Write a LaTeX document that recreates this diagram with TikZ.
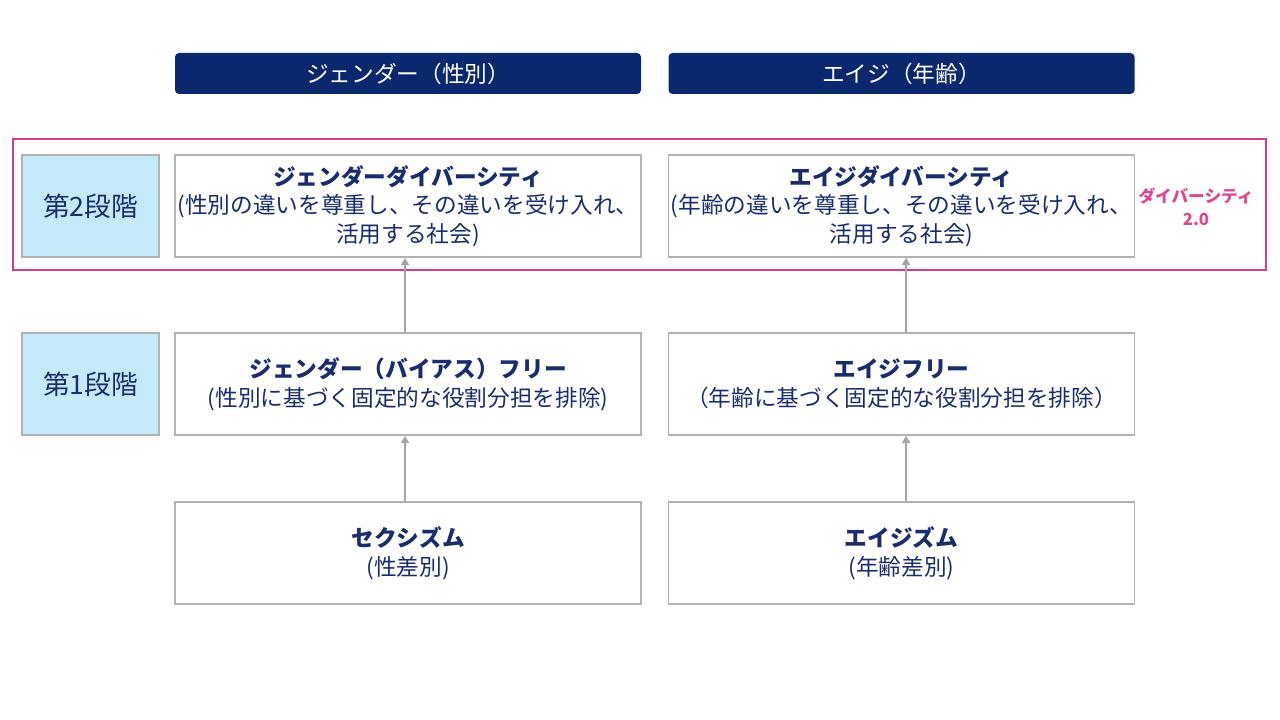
\documentclass[tikz,border=0pt]{standalone}
\usepackage{fontspec}
\setmainfont{Noto Sans CJK JP}
\usetikzlibrary{arrows.meta}
\definecolor{hdr}{RGB}{10,40,110}
\definecolor{navy}{RGB}{25,45,110}
\definecolor{pinkc}{RGB}{214,60,140}
\definecolor{pinkt}{RGB}{222,70,145}
\definecolor{lblue}{RGB}{197,234,250}
\definecolor{bgray}{RGB}{178,178,178}
\definecolor{agray}{RGB}{165,165,165}
\begin{document}
\begin{tikzpicture}[x=0.75pt,y=-0.75pt,
  hdrbox/.style={fill=hdr, rounded corners=3pt, inner sep=0pt, minimum width=349.5pt, minimum height=30.75pt, text=white, font=\fontsize{17pt}{21pt}\selectfont},
  cbox/.style={draw=bgray, line width=1.1pt, fill=white, inner sep=0pt, minimum width=349.5pt, minimum height=76.5pt, align=center, text=navy, font=\fontsize{17pt}{21.5pt}\selectfont},
  stagebox/.style={draw=bgray, line width=1.1pt, fill=lblue, inner sep=0pt, minimum width=102.75pt, minimum height=76.5pt, text=navy, font=\fontsize{20pt}{24pt}\selectfont},
  pinkbox/.style={draw=pinkc, line width=1.9pt, inner sep=0pt, minimum width=939.75pt, minimum height=98.25pt},
  arr/.style={draw=agray, line width=1.7pt, -{Triangle[width=6pt,length=5.5pt]}}]
\useasboundingbox (0,0) rectangle (1280,720);
\fill[white] (0,0) rectangle (1280,720);
% headers
\node[hdrbox] (hg) at (408,73.5) {ジェンダー（性別）};
\node[hdrbox] (ha) at (901.5,73.5) {エイジ（年齢）};
% pink frame
\node[pinkbox] (pf) at (639.5,204.5) {};
% stage labels
\node[stagebox] (st2) at (90.5,206) {第2段階};
\node[stagebox] (st1) at (90.5,384) {第1段階};
% content boxes
\node[cbox] (g2) at (408,206) {\textbf{ジェンダーダイバーシティ}\\(性別の違いを尊重し、その違いを受け入れ、\\活用する社会)};
\node[cbox] (a2) at (901.5,206) {\textbf{エイジダイバーシティ}\\(年齢の違いを尊重し、その違いを受け入れ、\\活用する社会)};
\node[cbox] (g1) at (408,384) {\textbf{ジェンダー（バイアス）フリー}\\(性別に基づく固定的な役割分担を排除)};
\node[cbox] (a1) at (901.5,384) {\textbf{エイジフリー}\\（年齢に基づく固定的な役割分担を排除）};
\node[cbox] (g0) at (408,553) {\textbf{セクシズム}\\(性差別)};
\node[cbox] (a0) at (901.5,553) {\textbf{エイジズム}\\(年齢差別)};
% side label
\node[text=pinkt, align=center, font=\fontsize{12.5pt}{17pt}\selectfont\bfseries] (d20) at (1196,207) {ダイバーシティ\\2.0};
% arrows
\draw[arr] ([xshift=-2.25pt]g0.north) -- ([xshift=-2.25pt]g1.south);
\draw[arr] ([xshift=-2.25pt]g1.north) -- ([xshift=-2.25pt]g2.south);
\draw[arr] ([xshift=3.4pt]a0.north) -- ([xshift=3.4pt]a1.south);
\draw[arr] ([xshift=3.4pt]a1.north) -- ([xshift=3.4pt]a2.south);
\end{tikzpicture}
\end{document}
